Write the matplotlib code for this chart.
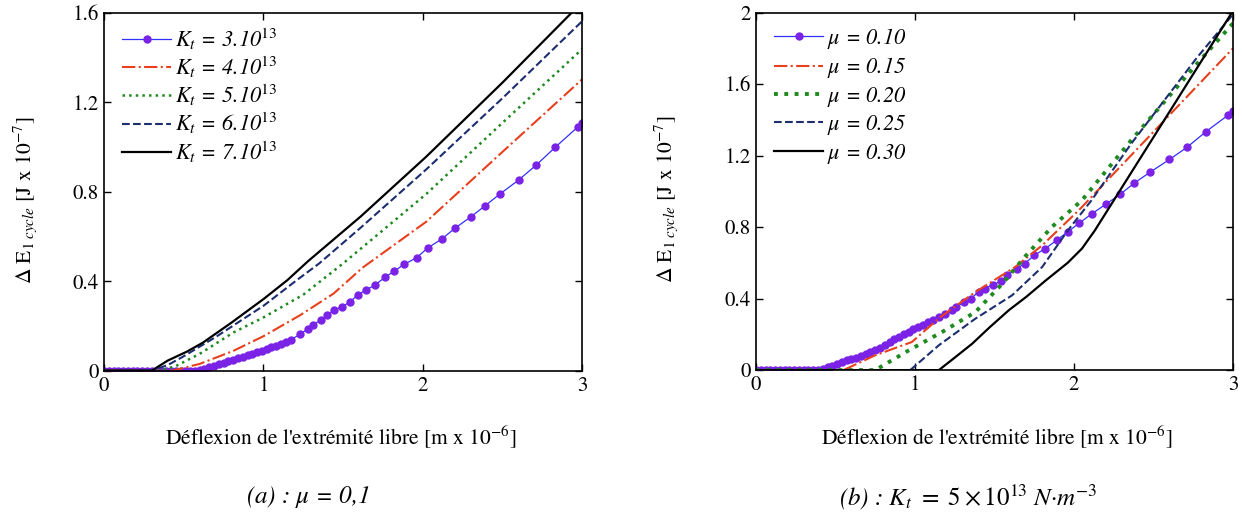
import numpy as np
import matplotlib
matplotlib.use("Agg")
import matplotlib.pyplot as plt
from matplotlib.ticker import FormatStrFormatter

plt.rcParams['font.family'] = ['STIXGeneral', 'DejaVu Sans']
plt.rcParams['mathtext.fontset'] = 'stix'

# ---- (a) mu = 0.1, variation of K_t ----
k7_x = [0, 0.30, 0.40, 0.52, 0.62, 0.80, 1.00, 1.15, 1.28, 1.61, 2.02, 2.50, 2.93, 3.00]
k7_y = [0, 0, 0.045, 0.085, 0.125, 0.215, 0.32, 0.405, 0.49, 0.69, 0.957, 1.29, 1.60, 1.65]

k6_x = [0, 0.30, 0.40, 0.49, 0.70, 1.00, 1.20, 1.35, 1.61, 2.02, 2.50, 3.00]
k6_y = [0, 0, 0.025, 0.06, 0.15, 0.29, 0.40, 0.48, 0.64, 0.90, 1.22, 1.565]

k5_x = [0, 0.35, 0.45, 0.60, 0.81, 1.00, 1.25, 1.50, 2.02, 2.50, 3.00]
k5_y = [0, 0, 0.02, 0.075, 0.17, 0.238, 0.34, 0.48, 0.79, 1.11, 1.44]

k4_x = [0, 0.43, 0.60, 0.81, 1.00, 1.23, 1.44, 1.62, 2.02, 2.50, 3.00]
k4_y = [0, 0, 0.03, 0.088, 0.154, 0.248, 0.345, 0.46, 0.666, 0.98, 1.305]

k3_x = [0.00, 0.03, 0.06, 0.09, 0.12, 0.15, 0.18, 0.21, 0.24, 0.27, 0.30, 0.33,
        0.36, 0.39, 0.42, 0.45, 0.48, 0.51, 0.54, 0.57, 0.60, 0.63, 0.66, 0.69,
        0.72, 0.75, 0.78, 0.81, 0.84, 0.87, 0.90, 0.93, 0.96, 0.99, 1.02, 1.05,
        1.08, 1.11, 1.14, 1.17, 1.23, 1.28, 1.31, 1.36, 1.40, 1.44, 1.49, 1.54,
        1.59, 1.64, 1.70, 1.76, 1.82, 1.88, 1.96, 2.03, 2.12, 2.20, 2.30, 2.39,
        2.48, 2.60, 2.71, 2.83, 2.97, 3.00]
k3_y = [0, 0, 0, 0, 0, 0, 0, 0, 0, 0, 0, 0,
        0, 0, 0, 0, 0, 0, 0, 0, 0.004, 0.008, 0.014, 0.022,
        0.03, 0.036, 0.042, 0.048, 0.055, 0.062, 0.068, 0.075, 0.082, 0.09, 0.097, 0.104,
        0.111, 0.118, 0.126, 0.136, 0.164, 0.187, 0.206, 0.226, 0.248, 0.27, 0.285, 0.306,
        0.338, 0.36, 0.383, 0.417, 0.445, 0.475, 0.505, 0.549, 0.590, 0.637, 0.688, 0.738,
        0.789, 0.853, 0.92, 1.00, 1.09, 1.11]

# ---- (b) K_t = 5e13, variation of mu ----
m30_x = [0, 1.15, 1.25, 1.36, 1.47, 1.59, 1.70, 1.82, 1.96, 2.05, 2.13, 3.00]
m30_y = [0, 0, 0.07, 0.148, 0.24, 0.335, 0.41, 0.50, 0.60, 0.68, 0.78, 2.01]

m25_x = [0, 0.97, 1.15, 1.38, 1.61, 1.80, 1.96, 2.11, 2.36, 2.775, 3.00]
m25_y = [0, 0, 0.139, 0.288, 0.418, 0.577, 0.78, 0.95, 1.267, 1.75, 1.99]

m20_x = [0, 0.75, 0.96, 1.17, 1.38, 1.55, 1.69, 1.86, 2.05, 2.36, 2.775, 3.00]
m20_y = [0, 0, 0.11, 0.213, 0.325, 0.484, 0.633, 0.80, 0.95, 1.286, 1.715, 1.94]

m15_x = [0, 0.55, 0.75, 0.98, 1.16, 1.38, 1.63, 1.80, 2.03, 2.09, 3.00]
m15_y = [0, 0, 0.083, 0.157, 0.297, 0.437, 0.577, 0.698, 0.894, 0.95, 1.80]

m10_x = [0.00, 0.03, 0.06, 0.09, 0.12, 0.15, 0.18, 0.21, 0.24, 0.27, 0.30, 0.33,
         0.36, 0.39, 0.42, 0.45, 0.48, 0.51, 0.54, 0.57, 0.60, 0.63, 0.66, 0.69,
         0.72, 0.75, 0.78, 0.81, 0.84, 0.87, 0.90, 0.93, 0.96, 0.99, 1.02, 1.05,
         1.08, 1.11, 1.15, 1.19, 1.23, 1.26, 1.31, 1.35, 1.40, 1.44, 1.49, 1.54,
         1.58, 1.64, 1.69, 1.75, 1.82, 1.89, 1.96, 2.03, 2.11, 2.20, 2.29, 2.38,
         2.48, 2.60, 2.71, 2.83, 2.97, 3.00]
m10_y = [0, 0, 0, 0, 0, 0, 0, 0, 0, 0, 0, 0,
         0, 0, 0.005, 0.015, 0.025, 0.036, 0.045, 0.055, 0.063, 0.07, 0.078, 0.088,
         0.10, 0.112, 0.126, 0.14, 0.155, 0.172, 0.185, 0.20, 0.214, 0.228, 0.242, 0.255,
         0.268, 0.28, 0.297, 0.316, 0.335, 0.353, 0.381, 0.40, 0.437, 0.456, 0.478, 0.497,
         0.53, 0.568, 0.596, 0.642, 0.68, 0.726, 0.773, 0.82, 0.873, 0.928, 0.983, 1.047,
         1.108, 1.178, 1.246, 1.334, 1.427, 1.45]

leg_a = ['$K_t$ = 3.10$^{13}$', '$K_t$ = 4.10$^{13}$', '$K_t$ = 5.10$^{13}$',
         '$K_t$ = 6.10$^{13}$', '$K_t$ = 7.10$^{13}$']
leg_b = ['$\\mu$ = 0.10', '$\\mu$ = 0.15', '$\\mu$ = 0.20', '$\\mu$ = 0.25', '$\\mu$ = 0.30']

c_purple = '#7a22e6'
c_blue = '#3030ff'
c_red = '#e8401c'
c_green = '#1f8a1f'
c_navy = '#1c2e6e'

fig = plt.figure(figsize=(12.42, 5.22), dpi=100)
ax1 = fig.add_axes([0.0837, 0.290, 0.3853, 0.685])
ax2 = fig.add_axes([0.6087, 0.291, 0.3841, 0.685])

ylab = r'$\Delta$ E$_{\mathit{1\ cycle}}$ [J x 10$^{\mathrm{-7}}$]'

def style(ax, ymax, yticks, label_x):
    ax.set_xlim(0, 3)
    ax.set_ylim(0, ymax)
    ax.set_xticks([0, 1, 2, 3])
    ax.set_yticks(yticks)
    ax.yaxis.set_major_formatter(FormatStrFormatter('%g'))
    ax.tick_params(direction='in', top=True, right=True, length=5, width=1,
                   labelsize=15, pad=4)
    for s in ax.spines.values():
        s.set_linewidth(1.2)
    ax.set_ylabel(ylab, fontsize=15.5)
    ax.yaxis.set_label_coords(label_x, 0.477)

leg_font = {'size': 16, 'style': 'italic', 'family': 'STIXGeneral'}

# (a)
ax1.plot(k3_x, k3_y, '-', color=c_blue, lw=0.9, marker='o', ms=5,
         mfc=c_purple, mec=c_purple, label=leg_a[0])
ax1.plot(k4_x, k4_y, '-.', color=c_red, lw=1.5, label=leg_a[1])
ax1.plot(k5_x, k5_y, ':', color=c_green, lw=1.8, label=leg_a[2])
ax1.plot(k6_x, k6_y, '--', color=c_navy, lw=1.5, label=leg_a[3])
ax1.plot(k7_x, k7_y, '-', color='black', lw=1.6, label=leg_a[4])
style(ax1, 1.6, [0, 0.4, 0.8, 1.2, 1.6], -0.135)
ax1.legend(loc='upper left', bbox_to_anchor=(0.01, 1.0), frameon=False, prop=leg_font,
           handlelength=2.2, handletextpad=0.2, labelspacing=0.12, borderaxespad=0.2)

# (b)
ax2.plot(m10_x, m10_y, '-', color=c_blue, lw=0.9, marker='o', ms=5,
         mfc=c_purple, mec=c_purple, label=leg_b[0])
ax2.plot(m15_x, m15_y, '-.', color=c_red, lw=1.5, label=leg_b[1])
ax2.plot(m20_x, m20_y, ':', color=c_green, lw=2.8, label=leg_b[2])
ax2.plot(m25_x, m25_y, '--', color=c_navy, lw=1.5, label=leg_b[3])
ax2.plot(m30_x, m30_y, '-', color='black', lw=1.6, label=leg_b[4])
style(ax2, 2, [0, 0.4, 0.8, 1.2, 1.6, 2.0], -0.16)
ax2.legend(loc='upper left', bbox_to_anchor=(0.01, 1.0), frameon=False, prop=leg_font,
           handlelength=2.2, handletextpad=0.2, labelspacing=0.2, borderaxespad=0.2)

xlab = r"Déflexion de l'extrémité libre [m x 10$^{\mathrm{-6}}$]"
fig.text(341 / 1242, 1 - 437 / 522, xlab, ha='center', va='center', fontsize=15.5)
fig.text(997 / 1242, 1 - 437 / 522, xlab, ha='center', va='center', fontsize=15.5)

fig.text(308 / 1242, 1 - 497 / 522, '(a) : $\\mu$ = 0,1', style='italic',
         ha='center', va='center', fontsize=18)
fig.text(968 / 1242, 1 - 497 / 522,
         '(b) : $K_t\\ =\\ 5\\times10^{13}$ N·m$^{-3}$', style='italic',
         ha='center', va='center', fontsize=18)

fig.savefig('out.png', dpi=100)
